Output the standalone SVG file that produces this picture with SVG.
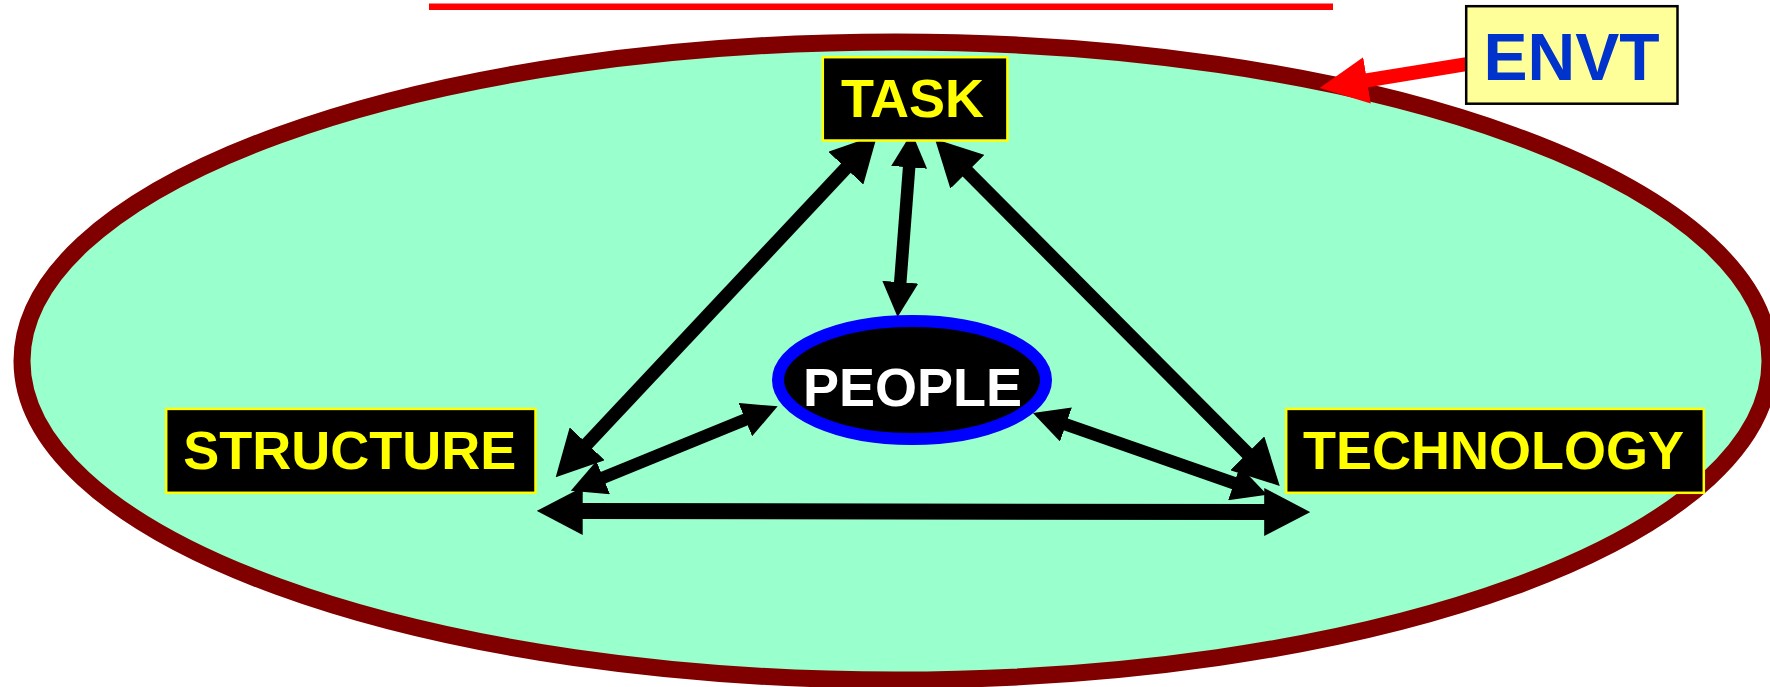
<svg xmlns="http://www.w3.org/2000/svg" width="1770" height="687" viewBox="0 0 1770 687">
  <style>
    .box { fill: #000000; stroke: #FFFF00; stroke-width: 2.5; }
    .label { font-family: "Liberation Sans", Arial, sans-serif; font-weight: bold; font-size: 54px; text-anchor: middle; fill: #FFFF00; }
    .link { stroke: #000000; stroke-width: 12.5; fill: none; }
    .long { stroke-width: 13.5; }
  </style>
  <defs>
    <!-- large arrowhead: 46 long, 48 wide; line ends at the head's base -->
    <marker id="headL" markerUnits="userSpaceOnUse" viewBox="0 0 46 48" markerWidth="46" markerHeight="48" refX="1" refY="24" orient="auto-start-reverse">
      <path d="M0,0 L46,24 L0,48 Z" fill="#000000"/>
    </marker>
    <!-- small arrowhead: 35 long, 36 wide -->
    <marker id="headS" markerUnits="userSpaceOnUse" viewBox="0 0 35 36" markerWidth="35" markerHeight="36" refX="1" refY="18" orient="auto-start-reverse">
      <path d="M0,0 L35,18 L0,36 Z" fill="#000000"/>
    </marker>
    <marker id="headRed" markerUnits="userSpaceOnUse" viewBox="0 0 48 47" markerWidth="48" markerHeight="47" refX="1" refY="23.5" orient="auto">
      <path d="M0,0 L48,23.5 L0,47 Z" fill="#FF0000"/>
    </marker>
  </defs>

  <!-- top rule -->
  <rect x="429" y="3.5" width="904" height="6.5" fill="#FF0000"/>

  <!-- organisation boundary -->
  <g id="organisation">
    <ellipse cx="896" cy="361" rx="874" ry="319" fill="#99FFCC" stroke="#800000" stroke-width="17"/>
  </g>

  <!-- relationships between the four elements -->
  <g id="connectors">
    <line class="link long" x1="586.5" y1="444.5" x2="846.5" y2="167.5" marker-start="url(#headL)" marker-end="url(#headL)"/>
    <line class="link" x1="900.2" y1="283.2" x2="909.2" y2="166.3" marker-start="url(#headS)" marker-end="url(#headS)"/>
    <line class="link long" x1="966.7" y1="171" x2="1248" y2="454" marker-start="url(#headL)" marker-end="url(#headL)"/>
    <line class="link" x1="602.3" y1="478" x2="746.2" y2="419.2" marker-start="url(#headS)" marker-end="url(#headS)"/>
    <line class="link" x1="1065" y1="424.2" x2="1235" y2="483.5" marker-start="url(#headS)" marker-end="url(#headS)"/>
    <line class="link" style="stroke-width:16" x1="581.7" y1="511" x2="1265.2" y2="512" marker-start="url(#headL)" marker-end="url(#headL)"/>
    <!-- environment pressing on the organisation -->
    <line x1="1468" y1="63.8" x2="1366" y2="80.5" stroke="#FF0000" stroke-width="14" marker-end="url(#headRed)"/>
  </g>

  <g id="task">
    <rect class="box" x="822.8" y="57.2" width="184.6" height="83.3"/>
    <text class="label" x="912.5" y="117.3">TASK</text>
  </g>

  <g id="people">
    <ellipse cx="912" cy="380" rx="134" ry="59" fill="#000000" stroke="#0000FF" stroke-width="12"/>
    <text class="label" x="912.5" y="405.7" style="fill:#FFFFFF">PEOPLE</text>
  </g>

  <g id="structure">
    <rect class="box" x="166.2" y="408.9" width="369.3" height="83.9"/>
    <text class="label" x="349.7" y="469.3">STRUCTURE</text>
  </g>

  <g id="technology">
    <rect class="box" x="1286.2" y="408.9" width="417.6" height="83.9"/>
    <text class="label" x="1493.6" y="469.3">TECHNOLOGY</text>
  </g>

  <g id="envt">
    <rect x="1466.2" y="6.2" width="211.3" height="97.5" fill="#FFFF99" stroke="#000000" stroke-width="2.5"/>
    <text x="1571.5" y="80" font-family="Liberation Sans, Arial, sans-serif" font-weight="bold" font-size="66" text-anchor="middle" fill="#0033CC">ENVT</text>
  </g>
</svg>
